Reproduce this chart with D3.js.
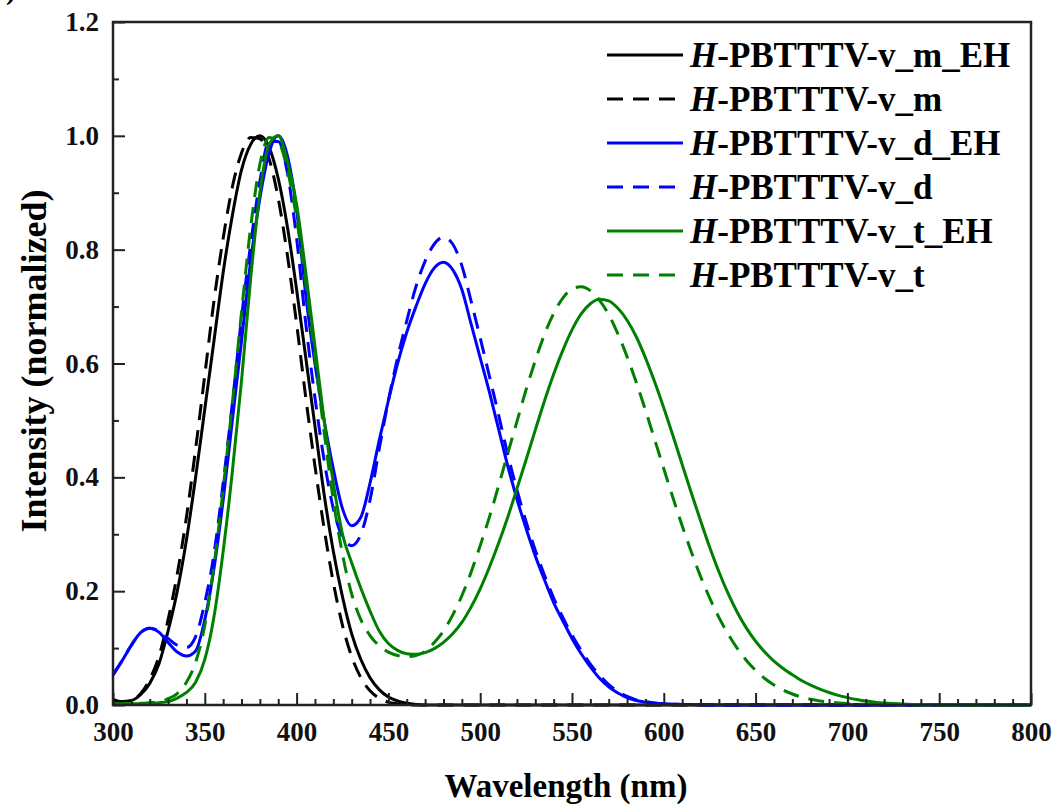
<!DOCTYPE html>
<html>
<head>
<meta charset="utf-8">
<script src="https://cdnjs.cloudflare.com/ajax/libs/d3/7.8.5/d3.min.js"></script>
<style>
  body { margin: 0; background: #fff; }
  svg { display: block; font-family: "Liberation Serif", "Times New Roman", serif; font-weight: bold; }
</style>
</head>
<body>
<div id="chart"></div>
<script>
// wavelength grid (nm), 5 nm steps
const wavelength = [
  300, 305, 310, 315, 320, 325, 330, 335, 340, 345,
  350, 355, 360, 365, 370, 375, 380, 385, 390, 395,
  400, 405, 410, 415, 420, 425, 430, 435, 440, 445,
  450, 455, 460, 465, 470, 475, 480, 485, 490, 495,
  500, 505, 510, 515, 520, 525, 530, 535, 540, 545,
  550, 555, 560, 565, 570, 575, 580, 585, 590, 595,
  600, 605, 610, 615, 620, 625, 630, 635, 640, 645,
  650, 655, 660, 665, 670, 675, 680, 685, 690, 695,
  700, 705, 710, 715, 720, 725, 730, 735, 740, 745,
  750, 755, 760, 765, 770, 775, 780, 785, 790, 795,
  800
];

// H-PBTTTV-v_m_EH
const mEH = [
  0.010, 0.006, 0.008, 0.018, 0.038, 0.072, 0.13, 0.20, 0.29, 0.40,
  0.52, 0.64, 0.76, 0.86, 0.94, 0.985, 1.0, 0.98, 0.925, 0.84,
  0.73, 0.61, 0.49, 0.37, 0.27, 0.19, 0.125, 0.08, 0.048, 0.027,
  0.014, 0.007, 0.003, 0.001, 0, 0, 0, 0, 0, 0,
  0, 0, 0, 0, 0, 0, 0, 0, 0, 0,
  0, 0, 0, 0, 0, 0, 0, 0, 0, 0,
  0, 0, 0, 0, 0, 0, 0, 0, 0, 0,
  0, 0, 0, 0, 0, 0, 0, 0, 0, 0,
  0, 0, 0, 0, 0, 0, 0, 0, 0, 0,
  0, 0, 0, 0, 0, 0, 0, 0, 0, 0,
  0
];

// H-PBTTTV-v_m
const m = [
  0.005, 0.004, 0.008, 0.02, 0.045, 0.085, 0.15, 0.23, 0.33, 0.45,
  0.58, 0.71, 0.82, 0.91, 0.97, 0.997, 0.995, 0.96, 0.89, 0.79,
  0.67, 0.54, 0.42, 0.31, 0.215, 0.14, 0.085, 0.048, 0.025, 0.012,
  0.005, 0.002, 0, 0, 0, 0, 0, 0, 0, 0,
  0, 0, 0, 0, 0, 0, 0, 0, 0, 0,
  0, 0, 0, 0, 0, 0, 0, 0, 0, 0,
  0, 0, 0, 0, 0, 0, 0, 0, 0, 0,
  0, 0, 0, 0, 0, 0, 0, 0, 0, 0,
  0, 0, 0, 0, 0, 0, 0, 0, 0, 0,
  0, 0, 0, 0, 0, 0, 0, 0, 0, 0,
  0
];

// H-PBTTTV-v_d_EH
const dEH = [
  0.053, 0.078, 0.105, 0.127, 0.135, 0.128, 0.11, 0.093, 0.086, 0.095,
  0.15, 0.24, 0.36, 0.50, 0.64, 0.78, 0.89, 0.97, 1.0, 0.965,
  0.87, 0.72, 0.60, 0.50, 0.415, 0.345, 0.315, 0.33, 0.39, 0.465,
  0.535, 0.60, 0.655, 0.70, 0.74, 0.768, 0.778, 0.765, 0.73, 0.67,
  0.61, 0.55, 0.485, 0.42, 0.362, 0.31, 0.262, 0.22, 0.18, 0.148,
  0.117, 0.09, 0.067, 0.047, 0.032, 0.021, 0.013, 0.008, 0.005, 0.003,
  0.002, 0.0015, 0.001, 0.0007, 0.0005, 0, 0, 0, 0, 0,
  0, 0, 0, 0, 0, 0, 0, 0, 0, 0,
  0, 0, 0, 0, 0, 0, 0, 0, 0, 0,
  0, 0, 0, 0, 0, 0, 0, 0, 0, 0,
  0
];

// H-PBTTTV-v_d
const d = [
  0.053, 0.078, 0.105, 0.127, 0.135, 0.13, 0.117, 0.105, 0.101, 0.12,
  0.18, 0.265, 0.39, 0.53, 0.68, 0.81, 0.92, 0.99, 0.99, 0.935,
  0.82, 0.67, 0.54, 0.43, 0.345, 0.295, 0.28, 0.30, 0.36, 0.45,
  0.535, 0.61, 0.675, 0.735, 0.78, 0.81, 0.822, 0.81, 0.772, 0.71,
  0.645, 0.578, 0.51, 0.44, 0.378, 0.322, 0.272, 0.228, 0.188, 0.154,
  0.123, 0.096, 0.072, 0.052, 0.036, 0.024, 0.015, 0.009, 0.006, 0.0035,
  0.002, 0.0015, 0.001, 0.0007, 0.0005, 0, 0, 0, 0, 0,
  0, 0, 0, 0, 0, 0, 0, 0, 0, 0,
  0, 0, 0, 0, 0, 0, 0, 0, 0, 0,
  0, 0, 0, 0, 0, 0, 0, 0, 0, 0,
  0
];

// H-PBTTTV-v_t_EH
const tEH = [
  0.002, 0.002, 0.002, 0.002, 0.003, 0.004, 0.006, 0.012, 0.022, 0.04,
  0.08, 0.155, 0.27, 0.41, 0.57, 0.75, 0.90, 0.985, 1.0, 0.955,
  0.88, 0.76, 0.63, 0.50, 0.39, 0.30, 0.25, 0.205, 0.165, 0.13,
  0.108, 0.096, 0.09, 0.089, 0.092, 0.099, 0.11, 0.125, 0.145, 0.172,
  0.204, 0.242, 0.284, 0.330, 0.380, 0.431, 0.483, 0.534, 0.581, 0.623,
  0.659, 0.687, 0.705, 0.713, 0.710, 0.697, 0.676, 0.647, 0.610, 0.568,
  0.522, 0.473, 0.4225, 0.3725, 0.324, 0.277, 0.234, 0.196, 0.163, 0.135,
  0.112, 0.093, 0.077, 0.064, 0.053, 0.043, 0.035, 0.028, 0.022, 0.017,
  0.013, 0.0095, 0.007, 0.005, 0.0035, 0.0025, 0.0017, 0.0011, 0.0007, 0.0004,
  0.0002, 0, 0, 0, 0, 0, 0, 0, 0, 0,
  0
];

// H-PBTTTV-v_t
const t = [
  0.002, 0.002, 0.002, 0.003, 0.004, 0.006, 0.011, 0.02, 0.04, 0.075,
  0.14, 0.245, 0.38, 0.53, 0.69, 0.84, 0.95, 0.997, 0.99, 0.94,
  0.855, 0.74, 0.61, 0.48, 0.36, 0.265, 0.195, 0.15, 0.122, 0.104,
  0.093, 0.087, 0.085, 0.087, 0.094, 0.11, 0.13, 0.158, 0.192, 0.233,
  0.28, 0.33, 0.385, 0.442, 0.498, 0.554, 0.605, 0.651, 0.688, 0.715,
  0.731, 0.735, 0.728, 0.711, 0.686, 0.652, 0.612, 0.567, 0.518, 0.4665,
  0.415, 0.364, 0.315, 0.269, 0.226, 0.188, 0.154, 0.125, 0.0995, 0.0783,
  0.0608, 0.0466, 0.0352, 0.0263, 0.0193, 0.014, 0.010, 0.0072, 0.0051, 0.0036,
  0.0025, 0.0017, 0.0011, 0.0008, 0.0005, 0.0003, 0.0002, 0, 0, 0,
  0, 0, 0, 0, 0, 0, 0, 0, 0, 0,
  0
];

const seriesNames = ['-PBTTTV-v_m_EH', '-PBTTTV-v_m', '-PBTTTV-v_d_EH', '-PBTTTV-v_d', '-PBTTTV-v_t_EH', '-PBTTTV-v_t'];
const seriesValues = [mEH, m, dEH, d, tEH, t];
const seriesColors = ['#000000', '#000000', '#0000ff', '#0000ff', '#008000', '#008000'];
const seriesDashed = [false, true, false, true, false, true];

const xTicks = [300, 350, 400, 450, 500, 550, 600, 650, 700, 750, 800];
const yTicks = [0.0, 0.2, 0.4, 0.6, 0.8, 1.0, 1.2];

const W = 1059, H = 810;
const mLeft = 113, mRight = 1031, mTop = 22, mBottom = 705;

const svg = d3.select('#chart').append('svg')
    .attr('width', W)
    .attr('height', H);

const x = d3.scaleLinear().domain([300, 800]).range([mLeft, mRight]);
const y = d3.scaleLinear().domain([0, 1.2]).range([mBottom, mTop]);

// corner fragment of the panel label (cropped in the original figure)
svg.append('text')
    .attr('x', 16).attr('y', -1)
    .attr('text-anchor', 'end')
    .style('font-size', '30px')
    .text('(a)');

// curves
const line = d3.line()
    .x((v, i) => x(wavelength[i]))
    .y(v => y(v))
    .curve(d3.curveMonotoneX);

const plot = svg.append('g');
seriesValues.forEach((vals, k) => {
    plot.append('path')
        .datum(vals)
        .attr('d', line)
        .attr('fill', 'none')
        .attr('stroke', seriesColors[k])
        .attr('stroke-width', 3)
        .attr('stroke-dasharray', seriesDashed[k] ? '16,10' : null);
});

// axes, ticks pointing inward
const minorX = d3.range(310, 800, 10).filter(v => v % 50 !== 0);
const minorY = [0.1, 0.3, 0.5, 0.7, 0.9, 1.1];

svg.append('g')
    .attr('transform', `translate(0,${mBottom})`)
    .call(d3.axisBottom(x).tickValues(xTicks).tickSize(-12).tickPadding(17).tickFormat(d3.format('d')));
svg.append('g')
    .attr('transform', `translate(0,${mBottom})`)
    .call(d3.axisBottom(x).tickValues(minorX).tickSize(-6).tickFormat(''));

svg.append('g')
    .attr('transform', `translate(${mLeft},0)`)
    .call(d3.axisLeft(y).tickValues(yTicks).tickSize(-12).tickPadding(14).tickFormat(d3.format('.1f')));
svg.append('g')
    .attr('transform', `translate(${mLeft},0)`)
    .call(d3.axisLeft(y).tickValues(minorY).tickSize(-6).tickFormat(''));

svg.selectAll('.domain').remove();
svg.selectAll('.tick line').attr('stroke', '#222').attr('stroke-width', 2);
svg.selectAll('.tick text')
    .attr('fill', '#111')
    .style('font-family', '"Liberation Serif", "Times New Roman", serif')
    .style('font-weight', 'bold')
    .style('font-size', '27px');

// frame
svg.append('rect')
    .attr('x', mLeft).attr('y', mTop)
    .attr('width', mRight - mLeft).attr('height', mBottom - mTop)
    .attr('fill', 'none')
    .attr('stroke', '#222')
    .attr('stroke-width', 2.5);

// axis titles
svg.append('text')
    .attr('x', 566).attr('y', 797)
    .attr('text-anchor', 'middle')
    .style('font-size', '33px')
    .text('Wavelength (nm)');

svg.append('text')
    .attr('transform', 'translate(46,361) rotate(-90)')
    .attr('text-anchor', 'middle')
    .style('font-size', '36px')
    .text('Intensity (normalized)');

// legend
const legend = svg.append('g');
seriesNames.forEach((name, k) => {
    const ly = 55 + k * 44;
    legend.append('line')
        .attr('x1', 607).attr('x2', 683)
        .attr('y1', ly).attr('y2', ly)
        .attr('stroke', seriesColors[k])
        .attr('stroke-width', 3)
        .attr('stroke-dasharray', seriesDashed[k] ? '16,10' : null);
    const txt = legend.append('text')
        .attr('x', 690).attr('y', ly + 12)
        .style('font-size', '35px');
    txt.append('tspan').style('font-style', 'italic').text('H');
    txt.append('tspan').text(name);
});
</script>
</body>
</html>
